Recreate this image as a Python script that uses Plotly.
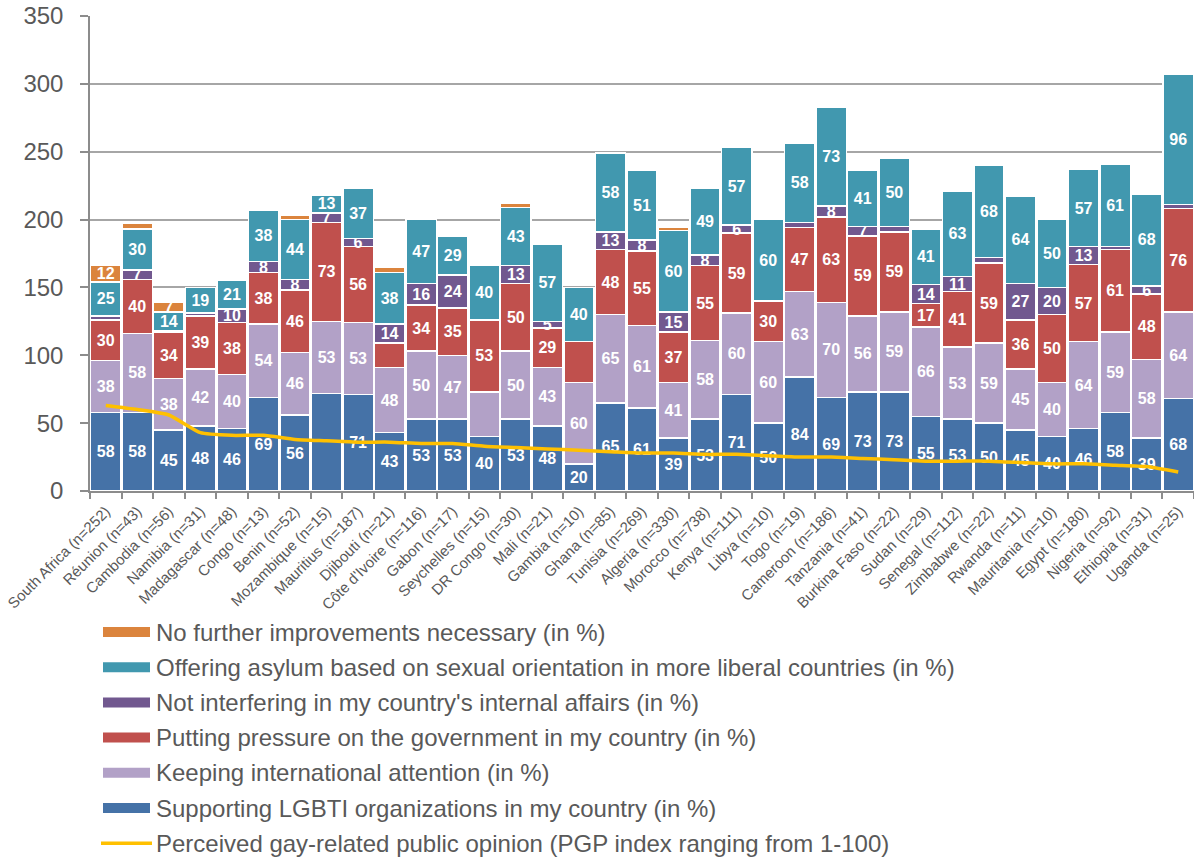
import plotly.graph_objects as go

countries = ["South Africa (n=252)", "Réunion (n=43)", "Cambodia (n=56)", "Namibia (n=31)",
             "Madagascar (n=48)", "Congo (n=13)", "Benin (n=52)", "Mozambique (n=15)",
             "Mauritius (n=187)", "Djibouti (n=21)", "Côte d'Ivoire (n=116)", "Gabon (n=17)",
             "Seychelles (n=15)", "DR Congo (n=30)", "Mali (n=21)", "Gambia (n=10)",
             "Ghana (n=85)", "Tunisia (n=269)", "Algeria (n=330)", "Morocco (n=738)",
             "Kenya (n=111)", "Libya (n=10)", "Togo (n=19)", "Cameroon (n=186)",
             "Tanzania (n=41)", "Burkina Faso (n=22)", "Sudan (n=29)", "Senegal (n=112)",
             "Zimbabwe (n=22)", "Rwanda (n=11)", "Mauritania (n=10)", "Egypt (n=180)",
             "Nigeria (n=92)", "Ethiopia (n=31)", "Uganda (n=25)"]

supporting = [58, 58, 45, 48, 46, 69, 56, 72, 71, 43, 53, 53, 40, 53, 48, 20, 65, 61, 39, 53,
              71, 50, 84, 69, 73, 73, 55, 53, 50, 45, 40, 46, 58, 39, 68]
attention = [38, 58, 38, 42, 40, 54, 46, 53, 53, 48, 50, 47, 33, 50, 43, 60, 65, 61, 41, 58,
             60, 60, 63, 70, 56, 59, 66, 53, 59, 45, 40, 64, 59, 58, 64]
pressure = [30, 40, 34, 39, 38, 38, 46, 73, 56, 18, 34, 35, 53, 50, 29, 30, 48, 55, 37, 55,
            59, 30, 47, 63, 59, 59, 17, 41, 59, 36, 50, 57, 61, 48, 76]
not_interfering = [3, 7, 1, 2, 10, 8, 8, 7, 6, 14, 16, 24, 0, 13, 5, 0, 13, 8, 15, 8,
                   6, 0, 4, 8, 7, 4, 14, 11, 4, 27, 20, 13, 2, 6, 3]
asylum = [25, 30, 14, 19, 21, 38, 44, 13, 37, 38, 47, 29, 40, 43, 57, 40, 58, 51, 60, 49,
          57, 60, 58, 73, 41, 50, 41, 63, 68, 64, 50, 57, 61, 68, 96]
no_further = [12, 4, 7, 0, 1, 0, 3, 0, 0, 4, 0, 0, 0, 3, 0, 0, 0, 1, 2, 1,
              0, 0, 0, 0, 0, 0, 0, 0, 0, 0, 0, 1, 0, 0, 0]
pgp = [63, 60, 56, 43, 41, 41, 38, 37, 36, 36, 35, 35, 33, 32, 31, 30, 29, 28, 28, 27,
       27, 26, 25, 25, 24, 23, 22, 22, 22, 21, 20, 20, 19, 18, 14]

# labels that the original chart does not display
hidden_labels = {("supporting", 7), ("pressure", 9), ("attention", 12), ("pressure", 15)}

series = [
    ("supporting", "Supporting LGBTI organizations in my country (in %)", supporting, "#4572A7"),
    ("attention", "Keeping international attention (in %)", attention, "#B2A1C7"),
    ("pressure", "Putting pressure on the government in my country (in %)", pressure, "#C0504D"),
    ("not_interfering", "Not interfering in my country's internal affairs (in %)", not_interfering, "#71588F"),
    ("asylum", "Offering asylum based on sexual orientation in more liberal countries (in %)", asylum, "#4198AF"),
    ("no_further", "No further improvements necessary (in %)", no_further, "#DB843D"),
]
line_name = "Perceived gay-related public opinion (PGP index ranging from 1-100)"
line_color = "#FFC000"

FONT = "Liberation Sans, Arial, sans-serif"
GRAY_TXT = "#595959"
AXIS_GRAY = "#8C8C8C"

fig = go.Figure()
for key, name, vals, color in series:
    texts = [str(v) if (v >= 5 and (key, i) not in hidden_labels) else "" for i, v in enumerate(vals)]
    fig.add_trace(go.Bar(
        x=countries, y=vals, name=name,
        marker=dict(color=color, line=dict(color="white", width=1.5)),
        text=texts, textposition="inside", insidetextanchor="middle",
        textangle=0, constraintext="none",
        textfont=dict(color="white", size=16, family=FONT, weight="bold"),
        showlegend=False,
    ))

fig.add_trace(go.Scatter(
    x=countries, y=pgp, name=line_name, mode="lines",
    line=dict(color=line_color, width=3.5, shape="spline", smoothing=0.5),
    showlegend=False,
))

# Geometry (pixels); the page body margin is removed so the figure starts at (0, 0)
W, H = 1194, 862
PLOT_X0, PLOT_X1 = 90, 1194
PLOT_Y0, PLOT_Y1 = 16, 491
L, R, T, B = PLOT_X0, W - PLOT_X1, PLOT_Y0, H - PLOT_Y1
plot_w = PLOT_X1 - PLOT_X0
plot_h = PLOT_Y1 - PLOT_Y0


def px_x(px):
    return (px - PLOT_X0) / plot_w


def px_y(py):
    return (PLOT_Y1 - py) / plot_h


# Custom legend (wide swatches, as in the original)
legend_items = [(name, color) for key, name, vals, color in reversed(series)]
row_y0, row_dy = 632, 35.2
LEG_SIZE = 24
shapes = []
annotations = []
for i, (name, color) in enumerate(legend_items):
    yc = row_y0 + i * row_dy
    shapes.append(dict(type="rect", xref="paper", yref="paper",
                       x0=px_x(103), x1=px_x(150), y0=px_y(yc + 5), y1=px_y(yc - 5),
                       fillcolor=color, line=dict(width=0)))
    annotations.append(dict(xref="paper", yref="paper", x=px_x(154), y=px_y(yc),
                            text=name, showarrow=False, xanchor="left", yanchor="middle",
                            font=dict(size=LEG_SIZE, color=GRAY_TXT, family=FONT)))
yc = row_y0 + len(legend_items) * row_dy
shapes.append(dict(type="line", xref="paper", yref="paper",
                   x0=px_x(101), x1=px_x(152), y0=px_y(yc), y1=px_y(yc),
                   line=dict(color=line_color, width=3.5)))
annotations.append(dict(xref="paper", yref="paper", x=px_x(154), y=px_y(yc),
                        text=line_name, showarrow=False, xanchor="left", yanchor="middle",
                        font=dict(size=LEG_SIZE, color=GRAY_TXT, family=FONT)))

fig.update_layout(
    width=W, height=H,
    margin=dict(l=L, r=R, t=T, b=B, autoexpand=False),
    barmode="stack", bargap=0.04,
    plot_bgcolor="white", paper_bgcolor="white",
    font=dict(family=FONT, color=GRAY_TXT),
    shapes=shapes, annotations=annotations,
    showlegend=False,
    xaxis=dict(
        type="category", tickangle=-45, tickson="boundaries", automargin=False,
        ticks="outside", ticklen=6, tickcolor=AXIS_GRAY, tickwidth=1.5,
        ticklabelstandoff=4,
        showline=True, linecolor=AXIS_GRAY, linewidth=1.5,
        tickfont=dict(size=15, color=GRAY_TXT, family=FONT),
        showgrid=False, range=[-0.5, len(countries) - 0.5],
    ),
    yaxis=dict(
        range=[0, 350], dtick=50, tick0=0, automargin=False,
        ticks="outside", ticklen=8, tickcolor=AXIS_GRAY, tickwidth=1.5,
        ticklabelstandoff=12,
        showline=True, linecolor=AXIS_GRAY, linewidth=1.5,
        showgrid=True, gridcolor="#A6A6A6", gridwidth=1.5,
        zeroline=False,
        tickfont=dict(size=24, color=GRAY_TXT, family=FONT),
    ),
)

fig.write_html(
    "out.html",
    config={"displayModeBar": False},
    post_script="document.body.style.margin='0';document.body.style.overflow='hidden';",
)
